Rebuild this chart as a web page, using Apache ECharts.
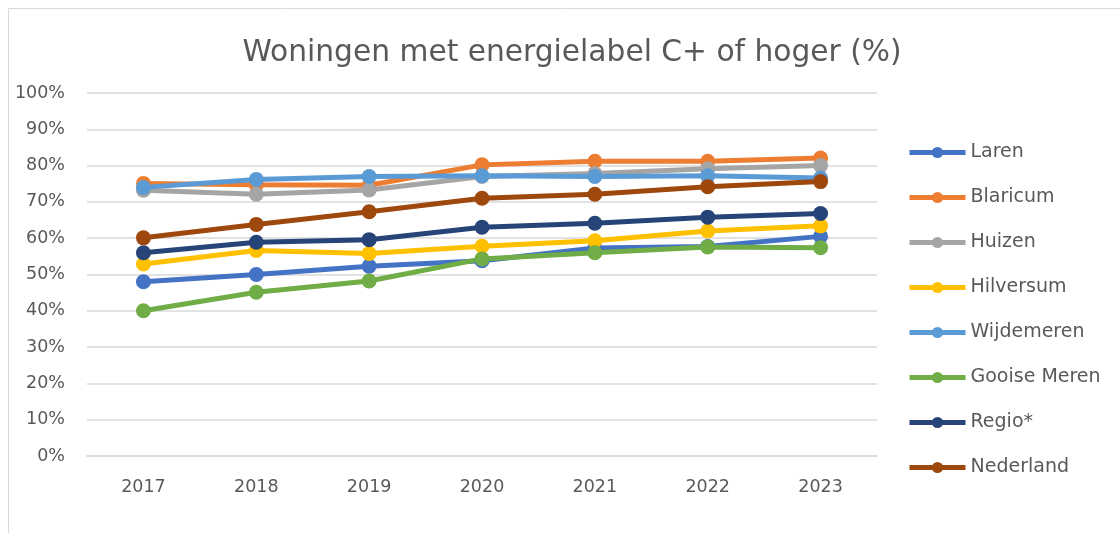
<!DOCTYPE html>
<html>
<head>
<meta charset="utf-8">
<script src="https://cdn.jsdelivr.net/npm/echarts@6/dist/echarts.min.js"></script>
<style>
html,body{margin:0;padding:0;background:#fff;}
#chart{width:1120px;height:533px;}
</style>
</head>
<body>
<div id="chart"></div>
<script>
const titleText = 'Woningen met energielabel C+ of hoger (%)';
const years = ['2017', '2018', '2019', '2020', '2021', '2022', '2023'];
const yTicks = [0, 10, 20, 30, 40, 50, 60, 70, 80, 90, 100];

const laren       = [48.0, 50.0, 52.3, 53.8, 57.3, 57.7, 60.5];
const blaricum    = [75.1, 74.7, 74.6, 80.2, 81.2, 81.2, 82.1];
const huizen      = [73.2, 72.1, 73.3, 77.0, 77.8, 79.1, 80.0];
const hilversum   = [52.9, 56.6, 55.8, 57.8, 59.3, 62.0, 63.4];
const wijdemeren  = [74.0, 76.2, 77.0, 77.2, 77.0, 77.2, 76.6];
const gooiseMeren = [40.0, 45.1, 48.2, 54.3, 56.0, 57.6, 57.4];
const regio       = [56.0, 58.9, 59.6, 63.0, 64.1, 65.8, 66.8];
const nederland   = [60.1, 63.8, 67.3, 71.0, 72.1, 74.2, 75.6];

const seriesNames = ['Laren', 'Blaricum', 'Huizen', 'Hilversum', 'Wijdemeren', 'Gooise Meren', 'Regio*', 'Nederland'];
const seriesData = [laren, blaricum, huizen, hilversum, wijdemeren, gooiseMeren, regio, nederland];
const colors = ['#4472C4', '#ED7D31', '#A5A5A5', '#FFC000', '#5B9BD5', '#70AD47', '#264478', '#9E480E'];

const FONT = 'DejaVu Sans';
const TXT = '#595959';

const chart = echarts.init(document.getElementById('chart'), null, {renderer: 'canvas'});
chart.setOption({
  animation: false,
  backgroundColor: '#ffffff',
  color: colors,
  graphic: [{
    type: 'rect',
    shape: {x: 8.5, y: 8.5, width: 1300, height: 700},
    style: {fill: 'none', stroke: '#d9d9d9', lineWidth: 1},
    silent: true
  }],
  title: {
    text: titleText,
    left: 567,
    textAlign: 'center',
    top: 33,
    textStyle: {fontFamily: FONT, fontSize: 29.7, fontWeight: 'normal', color: TXT}
  },
  legend: {
    orient: 'vertical',
    left: 902,
    top: 138,
    itemWidth: 56,
    itemHeight: 14,
    itemGap: 26,
    lineStyle: {width: 5},
    textStyle: {fontFamily: FONT, fontSize: 19, color: TXT},
    data: seriesNames
  },
  grid: {left: 87, right: 243, top: 93, bottom: 77},
  xAxis: {
    type: 'category',
    data: years,
    boundaryGap: true,
    axisLine: {show: true, lineStyle: {color: '#d9d9d9', width: 1.5}},
    axisTick: {show: false},
    axisLabel: {fontFamily: FONT, fontSize: 17.5, color: TXT, margin: 22}
  },
  yAxis: {
    type: 'value',
    min: 0,
    max: 100,
    interval: 10,
    axisLine: {show: false},
    axisTick: {show: false},
    splitLine: {lineStyle: {color: '#d9d9d9', width: 1.5}},
    axisLabel: {fontFamily: FONT, fontSize: 17.5, color: TXT, margin: 22,
      formatter: v => yTicks.includes(v) ? v + '%' : ''}
  },
  series: seriesNames.map((n, i) => ({
    name: n,
    type: 'line',
    data: seriesData[i],
    symbol: 'circle',
    symbolSize: 15,
    lineStyle: {width: 5, color: colors[i]},
    itemStyle: {color: colors[i]}
  }))
});
</script>
</body>
</html>
